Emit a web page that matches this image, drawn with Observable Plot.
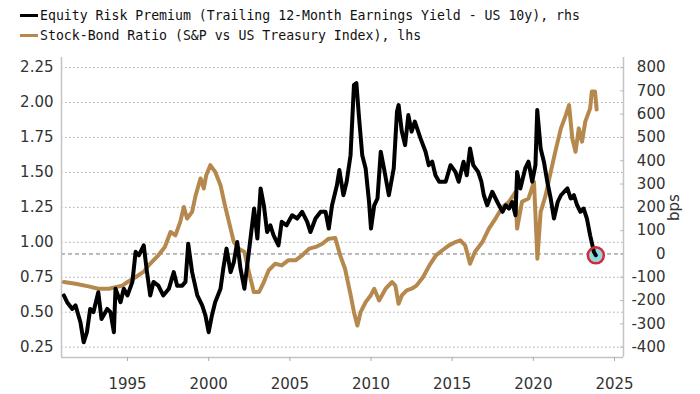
<!DOCTYPE html>
<html><head><meta charset="utf-8">
<script src="https://cdn.jsdelivr.net/npm/d3@7"></script>
<script src="https://cdn.jsdelivr.net/npm/@observablehq/plot@0.6"></script>
<style>
body{margin:0;background:#fff;width:700px;height:394px;overflow:hidden}
#legend{height:48px;position:relative;font-family:"DejaVu Sans Mono",monospace;font-size:13.2px;color:#111}
.row{position:absolute;left:20px;display:flex;align-items:center;white-space:nowrap;height:16px}
.sw{width:18px;height:3px;margin-right:2px}
</style></head><body>
<div id="legend">
  <div class="row" style="top:7px"><span class="sw" style="background:#000"></span><span>Equity Risk Premium (Trailing 12-Month Earnings Yield - US 10y), rhs</span></div>
  <div class="row" style="top:27px"><span class="sw" style="background:#b5894e"></span><span>Stock-Bond Ratio (S&amp;P vs US Treasury Index), lhs</span></div>
</div>
<div id="chart"></div>
<script>
// Equity risk premium, bps (right axis)
const erpYears = [1991.08,1991.28,1991.6,1991.8,1992.1,1992.3,1992.5,1992.7,1992.9,1993.2,1993.4,1993.75,1993.95,1994.16,1994.26,1994.57,1994.77,1995.0,1995.3,1995.5,1995.7,1996.0,1996.2,1996.4,1996.6,1996.9,1997.2,1997.55,1997.85,1998.06,1998.37,1998.57,1998.74,1998.98,1999.3,1999.6,1999.8,2000.0,2000.2,2000.4,2000.73,2000.9,2001.1,2001.35,2001.55,2001.76,2001.96,2002.2,2002.4,2002.6,2002.8,2003.0,2003.2,2003.4,2003.6,2003.8,2004.0,2004.3,2004.5,2004.8,2005.14,2005.45,2005.76,2006.07,2006.27,2006.58,2006.9,2007.2,2007.4,2007.6,2007.9,2008.05,2008.3,2008.5,2008.74,2008.95,2009.1,2009.25,2009.46,2009.67,2009.88,2010.0,2010.2,2010.4,2010.6,2010.8,2011.1,2011.4,2011.6,2011.7,2011.9,2012.1,2012.3,2012.5,2012.7,2013.05,2013.36,2013.56,2013.77,2013.97,2014.2,2014.6,2014.9,2015.2,2015.4,2015.7,2015.9,2016.1,2016.3,2016.6,2016.8,2016.95,2017.16,2017.47,2017.78,2018.1,2018.3,2018.5,2018.7,2018.9,2019.0,2019.2,2019.5,2019.7,2019.93,2020.13,2020.24,2020.45,2020.65,2020.86,2021.07,2021.27,2021.5,2021.7,2021.9,2022.1,2022.3,2022.5,2022.7,2022.9,2023.1,2023.3,2023.5,2023.73,2023.85];
const erpBps = [-178,-207,-236,-221,-293,-379,-336,-236,-250,-164,-279,-236,-250,-336,-149,-207,-149,-178,-120,9,-6,37,-78,-178,-120,-136,-178,-149,-78,-136,-136,-120,44,-78,-178,-221,-264,-336,-264,-207,-149,-63,23,-78,-35,51,-63,-149,-35,80,195,66,281,209,94,123,80,37,138,123,166,152,181,138,94,152,181,181,109,209,295,360,252,310,424,726,733,596,424,367,223,109,209,238,439,367,252,367,610,639,525,467,596,525,568,496,439,381,396,338,310,310,381,352,310,396,338,453,381,352,310,252,209,267,223,181,209,195,223,166,352,281,367,396,310,381,618,453,396,310,238,152,223,252,267,281,238,252,209,181,195,152,80,9,-6];
// Stock-bond ratio (left axis)
const ratioYears = [1991.08,1991.8,1992.6,1993.2,1993.85,1994.67,1995.0,1995.5,1996.0,1996.3,1996.9,1997.3,1997.65,1997.95,1998.25,1998.47,1998.67,1998.98,1999.2,1999.5,1999.7,1999.85,2000.1,2000.4,2000.73,2001.0,2001.35,2001.55,2001.86,2002.2,2002.48,2002.78,2003.1,2003.4,2003.7,2004.1,2004.5,2004.9,2005.35,2005.76,2006.2,2006.6,2007.0,2007.4,2007.8,2008.1,2008.4,2008.75,2008.95,2009.16,2009.36,2009.67,2009.98,2010.2,2010.5,2010.9,2011.3,2011.5,2011.7,2011.9,2012.2,2012.5,2012.8,2013.2,2013.6,2014.0,2014.4,2014.8,2015.2,2015.5,2015.8,2016.1,2016.4,2016.85,2017.26,2017.67,2018.1,2018.5,2018.9,2019.0,2019.3,2019.7,2020.04,2020.25,2020.45,2020.76,2021.07,2021.4,2021.7,2022.0,2022.2,2022.4,2022.6,2022.8,2023.0,2023.2,2023.5,2023.6,2023.8,2023.9];
const ratioValues = [0.716,0.704,0.685,0.668,0.668,0.69,0.716,0.75,0.79,0.835,0.907,0.966,1.074,1.05,1.146,1.253,1.17,1.218,1.337,1.457,1.385,1.48,1.552,1.504,1.409,1.265,1.098,1.002,0.955,0.931,0.787,0.644,0.644,0.716,0.8,0.847,0.835,0.871,0.871,0.907,0.955,0.967,0.99,1.026,1.03,0.907,0.811,0.62,0.5,0.405,0.5,0.572,0.62,0.668,0.584,0.668,0.716,0.69,0.56,0.62,0.656,0.668,0.69,0.75,0.835,0.907,0.943,0.978,1.002,1.014,0.978,0.847,0.931,1.0,1.098,1.17,1.253,1.29,1.36,1.098,1.29,1.313,1.433,0.883,1.218,1.337,1.504,1.672,1.815,1.91,1.982,1.743,1.648,1.815,1.72,1.863,1.958,2.078,2.078,1.95];

const leftTicks = [0.25,0.5,0.75,1.0,1.25,1.5,1.75,2.0,2.25];
const rightTicks = [-400,-300,-200,-100,0,100,200,300,400,500,600,700,800];
const xTicks = [1995,2000,2005,2010,2015,2020,2025];

const tan = "#b5894e";
const toLeft = b => 0.25 + (b + 400) / 600;
const erp = erpYears.map((x, i) => ({x, y: toLeft(erpBps[i])}));
const ratio = ratioYears.map((x, i) => ({x, y: ratioValues[i]}));
const last = [erp[erp.length - 1]];
const xDomain = [1990.934, 2025.554];
const yDomain = [0.176, 2.322];

const chart = Plot.plot({
  width: 700, height: 346,
  marginTop: 9, marginBottom: 37, marginLeft: 61, marginRight: 77,
  style: {fontFamily: "DejaVu Sans, sans-serif", fontSize: "15px", color: "#333", background: "#fff", overflow: "visible"},
  x: {domain: xDomain},
  y: {domain: yDomain},
  marks: [
    Plot.gridY(leftTicks, {stroke: "#aaa", strokeOpacity: 1, strokeDasharray: "1.5,2.5"}),
    Plot.ruleY([toLeft(0)], {stroke: "#777", strokeDasharray: "4,3"}),
    Plot.ruleX([xDomain[0], xDomain[1]], {stroke: "#c4c4c4", strokeWidth: 1.5}),
    Plot.ruleY([yDomain[0]], {stroke: "#c4c4c4", strokeWidth: 1.5}),
    Plot.axisY(leftTicks, {anchor: "left", tickSize: 0, tickPadding: 8, tickFormat: d3.format(".2f"), label: null}),
    Plot.axisY(rightTicks.map(toLeft), {anchor: "right", tickSize: -4, tickPadding: 46, textAnchor: "end", stroke: "#bbb",
      tickFormat: y => String(Math.round((y - 0.25) * 600 - 400)), label: "bps", labelAnchor: "center", labelArrow: false, labelOffset: 55}),
    Plot.axisX(xTicks, {anchor: "bottom", tickSize: 4, tickPadding: 17, tickFormat: d => String(d), stroke: "#aaa", label: null}),
    Plot.line(ratio, {x: "x", y: "y", stroke: tan, strokeWidth: 4, strokeLinejoin: "round"}),
    Plot.dot(last, {x: "x", y: "y", r: 8, fill: "#8fd8e0", stroke: "none"}),
    Plot.line(erp, {x: "x", y: "y", stroke: "#000", strokeWidth: 4, strokeLinejoin: "round"}),
    Plot.dot(last, {x: "x", y: "y", r: 8, fill: "none", stroke: "#d42a36", strokeWidth: 2.5})
  ]
});
document.getElementById("chart").appendChild(chart);
</script>
</body></html>
